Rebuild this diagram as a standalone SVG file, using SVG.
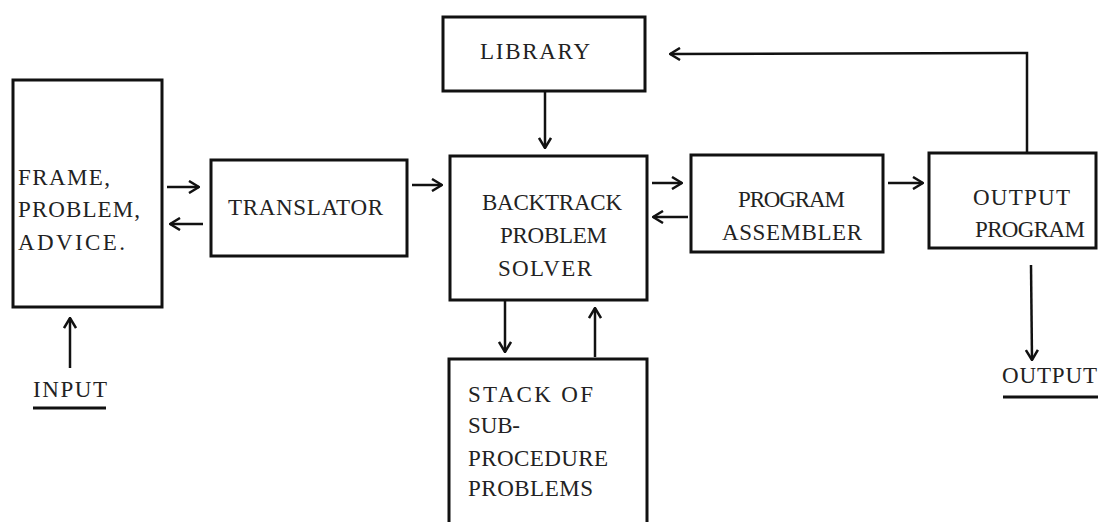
<svg xmlns="http://www.w3.org/2000/svg" width="1119" height="522" viewBox="0 0 1119 522" font-family="Liberation Serif, DejaVu Serif, serif">
<style>
.box{fill:none;stroke:#111;stroke-width:3}
.t{font-family:"Liberation Serif", "DejaVu Serif", serif;font-size:23px;fill:#222}
.c{stroke:#111;stroke-width:2.5;fill:none}
.u{stroke:#111;stroke-width:3}
</style>
<defs>
<marker id="ah" viewBox="0 0 12 14" refX="11" refY="7" markerWidth="12" markerHeight="14" markerUnits="userSpaceOnUse" orient="auto">
<path d="M1,1 L11,7 L1,13" fill="none" stroke="#111" stroke-width="2.5"/>
</marker>
</defs>
<rect width="1119" height="522" fill="#fff"/>
<g id="frame">
<rect class="box" x="13" y="80" width="149" height="227"/>
<text class="t" x="18" y="185" textLength="92" lengthAdjust="spacing">FRAME,</text>
<text class="t" x="18" y="217" textLength="122" lengthAdjust="spacing">PROBLEM,</text>
<text class="t" x="18" y="250" textLength="107" lengthAdjust="spacing">ADVICE.</text>
</g>
<g id="translator">
<rect class="box" x="211" y="160" width="196" height="96"/>
<text class="t" x="228" y="215" textLength="155" lengthAdjust="spacing">TRANSLATOR</text>
</g>
<g id="library">
<rect class="box" x="443" y="17" width="202" height="74"/>
<text class="t" x="480" y="59" textLength="110" lengthAdjust="spacing">LIBRARY</text>
</g>
<g id="backtrack">
<rect class="box" x="450" y="156" width="197" height="144"/>
<text class="t" x="482" y="210" textLength="140" lengthAdjust="spacing">BACKTRACK</text>
<text class="t" x="500" y="243" textLength="107" lengthAdjust="spacing">PROBLEM</text>
<text class="t" x="498" y="276" textLength="94" lengthAdjust="spacing">SOLVER</text>
</g>
<g id="assembler">
<rect class="box" x="691" y="155" width="192" height="97"/>
<text class="t" x="738" y="207" textLength="107" lengthAdjust="spacing">PROGRAM</text>
<text class="t" x="722" y="240" textLength="140" lengthAdjust="spacing">ASSEMBLER</text>
</g>
<g id="outputprogram">
<rect class="box" x="929" y="153" width="167" height="95"/>
<text class="t" x="973" y="205" textLength="97" lengthAdjust="spacing">OUTPUT</text>
<text class="t" x="975" y="237" textLength="110" lengthAdjust="spacing">PROGRAM</text>
</g>
<g id="stack">
<path class="box" d="M449,530 L449,359 L647,359 L647,530"/>
<text class="t" x="468" y="402" textLength="125" lengthAdjust="spacing">STACK OF</text>
<text class="t" x="468" y="433" textLength="52" lengthAdjust="spacing">SUB-</text>
<text class="t" x="468" y="466" textLength="140" lengthAdjust="spacing">PROCEDURE</text>
<text class="t" x="468" y="496" textLength="125" lengthAdjust="spacing">PROBLEMS</text>
</g>
<g id="input">
<text class="t" x="33" y="397" textLength="74" lengthAdjust="spacing">INPUT</text>
<line class="u" x1="33" y1="408" x2="106" y2="408"/>
</g>
<g id="output">
<text class="t" x="1002" y="383" textLength="95" lengthAdjust="spacing">OUTPUT</text>
<line class="u" x1="1003" y1="397" x2="1098" y2="397"/>
</g>
<g id="connectors">
<line class="c" x1="167" y1="187" x2="199" y2="187" marker-end="url(#ah)"/>
<line class="c" x1="203" y1="224" x2="170" y2="224" marker-end="url(#ah)"/>
<line class="c" x1="412" y1="185" x2="442" y2="185" marker-end="url(#ah)"/>
<line class="c" x1="545" y1="91" x2="545" y2="148" marker-end="url(#ah)"/>
<line class="c" x1="652" y1="183" x2="682" y2="183" marker-end="url(#ah)"/>
<line class="c" x1="688" y1="217" x2="653" y2="217" marker-end="url(#ah)"/>
<line class="c" x1="888" y1="183" x2="923" y2="183" marker-end="url(#ah)"/>
<polyline class="c" points="1027,153 1027,53 670,54" marker-end="url(#ah)"/>
<line class="c" x1="1031" y1="265" x2="1032" y2="360" marker-end="url(#ah)"/>
<line class="c" x1="70" y1="368" x2="70" y2="318" marker-end="url(#ah)"/>
<line class="c" x1="505" y1="300" x2="505" y2="352" marker-end="url(#ah)"/>
<line class="c" x1="595" y1="357" x2="595" y2="308" marker-end="url(#ah)"/>
</g>
</svg>
